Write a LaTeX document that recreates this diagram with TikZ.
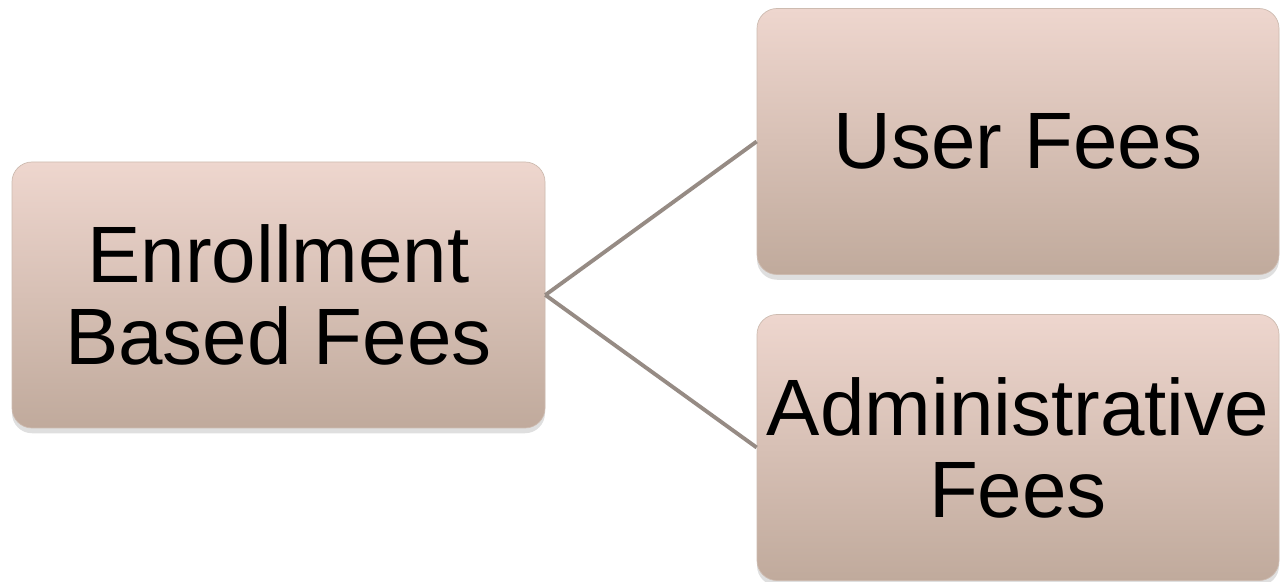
\documentclass[tikz,border=0pt]{standalone}
\usepackage{fontspec}
\setmainfont{Liberation Sans}
\usepackage{tikz}
\usetikzlibrary{
    positioning,
    shadows
}
\definecolor{cajaarriba}{RGB}{238,214,206}
\definecolor{cajaabajo}{RGB}{192,170,156}
\definecolor{conector}{RGB}{150,139,132}
\tikzset{
    caja/.style={
        rounded corners=0.4cm,
        top color=cajaarriba,
        bottom color=cajaabajo,
        draw=cajaabajo!80!white,
        line width=0.4pt,
        minimum height=5.32cm,
        inner sep=0pt,
        align=center,
        font=\fontsize{45.5}{46.7}\selectfont,
        drop shadow={opacity=0.25, shadow xshift=0pt, shadow yshift=-3pt}
    },
    rama/.style={
        draw=conector,
        line width=2.2pt
    }
}

\begin{document}
\begin{tikzpicture}

    \useasboundingbox (0,0) rectangle (25.66,-11.64);

    % Cajas
    \node[caja, minimum width=10.66cm] (enr) at (5.57,-5.90)  {Enrollment\\Based Fees};
    \node[caja, minimum width=10.44cm] (usr) at (20.36,-2.83) {User Fees};
    \node[caja, minimum width=10.44cm] (adm) at (20.36,-8.95) {Administrative\\Fees};

    % Ramas
    \draw[rama] (enr.east) -- (usr.west);
    \draw[rama] (enr.east) -- (adm.west);

\end{tikzpicture}
\end{document}
